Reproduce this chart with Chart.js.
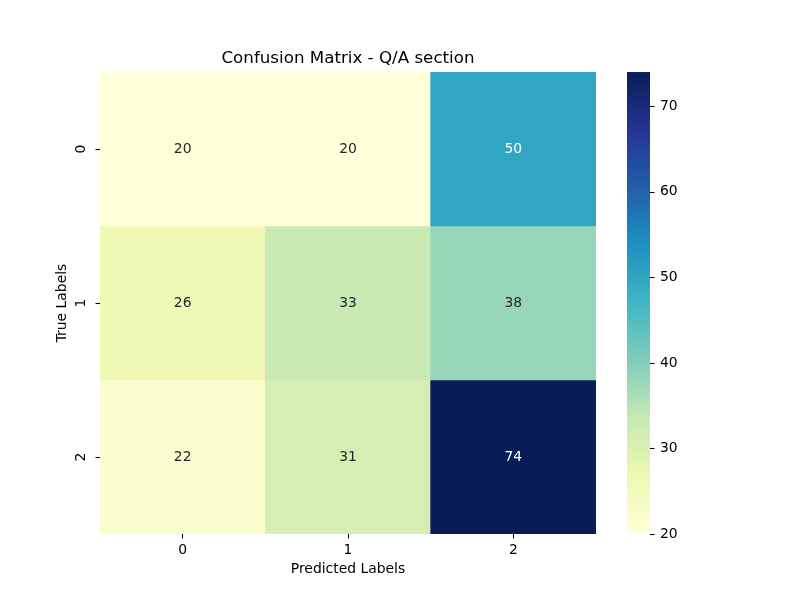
<!DOCTYPE html>
<html>
<head>
<meta charset="utf-8">
<script src="https://cdn.jsdelivr.net/npm/chart.js@4.4.1/dist/chart.umd.min.js"></script>
<style>
  html, body { margin: 0; padding: 0; background: #ffffff; }
  #wrap { width: 800px; height: 600px; position: relative; }
</style>
</head>
<body>
<div id="wrap"><canvas id="c"></canvas></div>
<script>
// ---- data ----
const predictedLabels = ['0', '1', '2'];
const trueLabels = ['0', '1', '2'];
const row0 = [20, 20, 50];
const row1 = [26, 33, 38];
const row2 = [22, 31, 74];
const matrix = [row0, row1, row2];
const colorMin = 20;
const colorMax = 74;
const colorbarTicks = [20, 30, 40, 50, 60, 70];

// ---- YlGnBu colormap ----
const ylGnBu = ['#ffffd9', '#edf8b1', '#c7e9b4', '#7fcdbb', '#41b6c4', '#1d91c0', '#225ea8', '#253494', '#081d58'];
function hexToRgb(h) {
  return [parseInt(h.slice(1, 3), 16), parseInt(h.slice(3, 5), 16), parseInt(h.slice(5, 7), 16)];
}
const stopsRgb = ylGnBu.map(hexToRgb);
function cmap(v) {
  let t = (v - colorMin) / (colorMax - colorMin);
  t = Math.max(0, Math.min(1, t));
  const p = t * (stopsRgb.length - 1);
  const i = Math.min(Math.floor(p), stopsRgb.length - 2);
  const f = p - i;
  const a = stopsRgb[i], b = stopsRgb[i + 1];
  return [0, 1, 2].map(k => Math.round(a[k] + (b[k] - a[k]) * f));
}
function rgbStr(c) { return 'rgb(' + c[0] + ',' + c[1] + ',' + c[2] + ')'; }
function luminance(c) {
  const lin = c.map(x => { x /= 255; return x <= 0.03928 ? x / 12.92 : Math.pow((x + 0.055) / 1.055, 2.4); });
  return 0.2126 * lin[0] + 0.7152 * lin[1] + 0.0722 * lin[2];
}

const FONT = "'DejaVu Sans', sans-serif";

const datasets = matrix.map((row, i) => ({
  label: trueLabels[i],
  data: row.map(() => 1),
  backgroundColor: row.map(v => rgbStr(cmap(v))),
  borderWidth: 0,
  barPercentage: 1,
  categoryPercentage: 1
}));

const annotPlugin = {
  id: 'annot',
  afterDatasetsDraw(chart) {
    const ctx = chart.ctx;
    ctx.save();
    ctx.font = '13.9px ' + FONT;
    ctx.textAlign = 'center';
    ctx.textBaseline = 'middle';
    matrix.forEach((row, i) => {
      const meta = chart.getDatasetMeta(i);
      row.forEach((v, j) => {
        const el = meta.data[j];
        const c = cmap(v);
        ctx.fillStyle = luminance(c) > 0.408 ? '#262626' : '#ffffff';
        ctx.fillText(String(v), el.x, (el.y + el.base) / 2);
      });
    });
    ctx.restore();
  }
};

const colorbarPlugin = {
  id: 'colorbar',
  afterDraw(chart) {
    const s = chart.scales.cb;
    const ctx = chart.ctx;
    const x0 = s.left + 31;
    const w = 23;
    const yTop = s.getPixelForValue(colorMax);
    const yBot = s.getPixelForValue(colorMin);
    const g = ctx.createLinearGradient(0, yBot, 0, yTop);
    ylGnBu.forEach((c, k) => g.addColorStop(k / (ylGnBu.length - 1), c));
    ctx.save();
    ctx.fillStyle = g;
    ctx.fillRect(x0, yTop, w, yBot - yTop);
    ctx.strokeStyle = '#000000';
    ctx.lineWidth = 1.1;
    colorbarTicks.forEach(v => {
      const y = Math.round(s.getPixelForValue(v)) + 0.5;
      ctx.beginPath();
      ctx.moveTo(x0 + w, y);
      ctx.lineTo(x0 + w + 4.5, y);
      ctx.stroke();
    });
    ctx.restore();
  }
};

function noPad(s) { s.paddingTop = 0; s.paddingBottom = 0; s.paddingLeft = 0; s.paddingRight = 0; }

new Chart(document.getElementById('c'), {
  type: 'bar',
  data: { labels: predictedLabels, datasets },
  options: {
    responsive: true,
    maintainAspectRatio: false,
    animation: false,
    devicePixelRatio: 1,
    layout: { padding: { top: 0, left: 0, right: 0, bottom: 0 } },
    plugins: {
      legend: { display: false },
      tooltip: { enabled: false },
      title: {
        display: true,
        text: 'Confusion Matrix - Q/A section',
        fullSize: false,
        color: '#000000',
        font: { family: FONT, size: 16.7, weight: 'normal' },
        padding: { top: 48.5, bottom: 3.5 }
      }
    },
    scales: {
      x: {
        type: 'category',
        stacked: true,
        offset: true,
        border: { display: false },
        grid: { display: true, drawOnChartArea: false, offset: false, tickLength: 4.5, tickColor: '#000000', tickWidth: 1.1 },
        ticks: { color: '#000000', font: { family: FONT, size: 13.9 }, padding: 3.5, maxRotation: 0 },
        title: { display: true, text: 'Predicted Labels', color: '#000000', font: { family: FONT, size: 13.9 }, padding: { top: 0, bottom: 22.7 } },
        afterFit(s) { s.height = 66; noPad(s); }
      },
      y: {
        type: 'linear',
        stacked: true,
        reverse: true,
        min: 0,
        max: 3,
        border: { display: false },
        grid: { display: true, drawOnChartArea: false, tickLength: 4.5, tickColor: '#000000', tickWidth: 1.1 },
        afterBuildTicks(s) { s.ticks = trueLabels.map((l, i) => ({ value: i + 0.5 })); },
        ticks: {
          color: '#000000',
          font: { family: FONT, size: 13.9 },
          minRotation: 90, maxRotation: 90,
          crossAlign: 'center',
          padding: 10,
          callback(v) { return trueLabels[Math.round(v - 0.5)]; }
        },
        title: { display: true, text: 'True Labels', color: '#000000', font: { family: FONT, size: 13.9 }, padding: { top: 53.7, bottom: 0 } },
        afterFit(s) { s.width = 100; noPad(s); }
      },
      cb: {
        type: 'linear',
        axis: 'y',
        position: 'right',
        min: colorMin,
        max: colorMax,
        border: { display: false },
        grid: { display: false, drawTicks: false },
        afterBuildTicks(s) { s.ticks = colorbarTicks.map(v => ({ value: v })); },
        ticks: { color: '#000000', font: { family: FONT, size: 13.9 }, padding: 64, crossAlign: 'near' },
        afterFit(s) { s.width = 204; noPad(s); }
      }
    }
  },
  plugins: [annotPlugin, colorbarPlugin]
});
</script>
</body>
</html>
